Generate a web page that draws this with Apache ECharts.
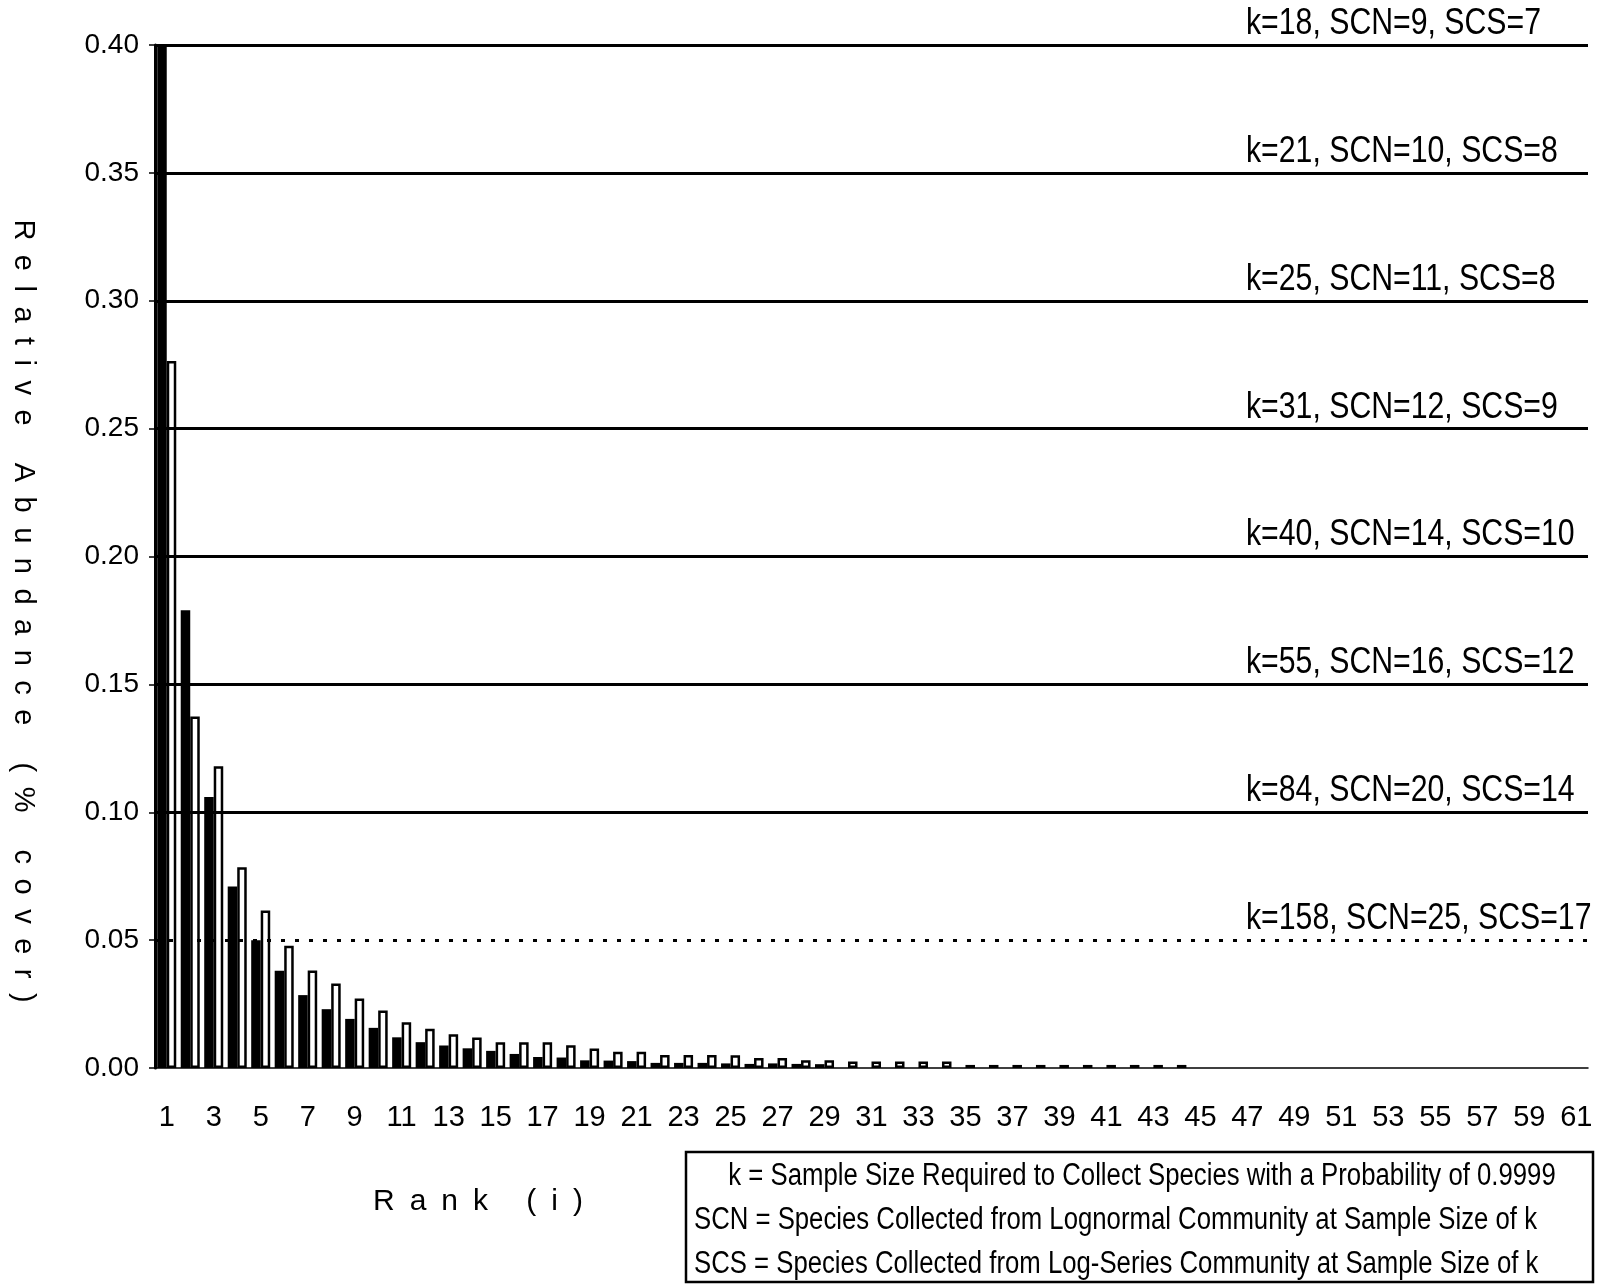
<!DOCTYPE html>
<html><head><meta charset="utf-8">
<script src="https://cdn.jsdelivr.net/npm/echarts@6/dist/echarts.min.js"></script>
<style>html,body{margin:0;padding:0;background:#fff}#c{width:1617px;height:1284px}</style>
</head><body><div id="c"></div>
<script>
const ranks = ['1','2','3','4','5','6','7','8','9','10','11','12','13','14','15','16','17','18','19','20',
  '21','22','23','24','25','26','27','28','29','30','31','32','33','34','35','36','37','38','39','40',
  '41','42','43','44','45','46','47','48','49','50','51','52','53','54','55','56','57','58','59','60','61'];

const blackVals = [0.42,0.179,0.106,0.071,0.050,0.038,0.0285,0.023,0.0192,0.0157,
  0.0120,0.0101,0.0088,0.0077,0.0067,0.0055,0.0043,0.0041,0.0030,0.0029,
  0.0027,0.0020,0.0020,0.0020,0.0018,0.0016,0.0018,0.0016,0.0015,null,
  null,null,null,null,null,null,null,null,null,null,
  null,null,null,null,null,null,null,null,null,null,
  null,null,null,null,null,null,null,null,null,null,null];

const whiteVals = [0.2764,0.1374,0.118,0.0785,0.0616,0.0478,0.0381,0.0330,0.0272,0.0225,
  0.0179,0.0153,0.0132,0.0119,0.0101,0.0101,0.0101,0.0089,0.0076,0.0064,
  0.0064,0.0051,0.0051,0.0051,0.0050,0.0039,0.0039,0.0030,0.0030,0.0025,
  0.0025,0.0025,0.0025,0.0025,0.0012,0.0012,0.0012,0.0012,0.0012,0.0012,
  0.0012,0.0012,0.0012,0.0012,null,null,null,null,null,null,
  null,null,null,null,null,null,null,null,null,null,null];

const refValues = [0.40,0.35,0.30,0.25,0.20,0.15,0.10,0.05];
const refLabels = ['k=18, SCN=9, SCS=7','k=21, SCN=10, SCS=8','k=25, SCN=11, SCS=8','k=31, SCN=12, SCS=9',
  'k=40, SCN=14, SCS=10','k=55, SCN=16, SCS=12','k=84, SCN=20, SCS=14','k=158, SCN=25, SCS=17'];

const legendLines = ['k = Sample Size Required to Collect Species with a Probability of 0.9999',
  'SCN = Species Collected from Lognormal Community at Sample Size of k',
  'SCS = Species Collected from Log-Series Community at Sample Size of k'];

const yTitle = 'Relative Abundance (% cover)';
const xTitle = 'Rank (i)';

const SANS = "'Liberation Sans',Arial,sans-serif";
const spaced = s => s.split('').join('\u2002');

const chart = echarts.init(document.getElementById('c'), null, {renderer:'canvas'});
chart.setOption({
  animation:false,
  backgroundColor:'#fff',
  grid:{left:155,right:29,top:45,bottom:216,containLabel:false},
  xAxis:{
    type:'category', data:ranks,
    axisLine:{show:true,lineStyle:{color:'#000',width:1.5}},
    axisTick:{show:false},
    axisLabel:{interval:1,margin:35,color:'#000',fontSize:29,fontFamily:SANS},
    splitLine:{show:false}
  },
  yAxis:{
    type:'value', min:0, max:0.4, interval:0.05,
    axisLine:{show:true,lineStyle:{color:'#000',width:3}},
    axisTick:{show:true,inside:false,length:6,lineStyle:{color:'#000',width:1.5}},
    axisLabel:{margin:16,color:'#000',fontSize:28,fontFamily:SANS,formatter:v=>v.toFixed(2)},
    splitLine:{show:false}
  },
  series:[
    {name:'Black', type:'bar', data:blackVals, barGap:'0%', barCategoryGap:'19%', clip:true,
     itemStyle:{color:'#000'},
     markLine:{silent:true, symbol:'none', animation:false,
       label:{show:false},
       data: refValues.map((v,i)=>({yAxis:v, lineStyle:{color:'#000', width:3, type: i===7?[4,10]:'solid'}}))
     }},
    {name:'White', type:'bar', data:whiteVals, clip:true,
     itemStyle:{color:'#fff',borderColor:'#000',borderWidth:2.5}}
  ]
});

const gfx = [];
refValues.forEach((v,i)=>{
  const y = chart.convertToPixel({yAxisIndex:0}, v);
  gfx.push({type:'text', x:1246, y:y-21, scaleX:0.84,
    style:{text:refLabels[i], font:'36px '+SANS, fill:'#000', textAlign:'left', textVerticalAlign:'middle'}});
});
gfx.push({type:'text', x:23, y:611, rotation:-Math.PI/2,
  style:{text:spaced(yTitle), font:'29px '+SANS, fill:'#000', textAlign:'center', textVerticalAlign:'middle'}});
gfx.push({type:'text', x:478, y:1202,
  style:{text:spaced(xTitle), font:'30px '+SANS, fill:'#000', textAlign:'center', textVerticalAlign:'middle'}});
gfx.push({type:'rect', shape:{x:686,y:1152,width:907,height:130}, style:{fill:'#fff',stroke:'#000',lineWidth:2.5}});
gfx.push({type:'text', x:1142, y:1176, scaleX:0.83, style:{text:legendLines[0], font:'31px '+SANS, fill:'#000', textAlign:'center', textVerticalAlign:'middle'}});
gfx.push({type:'text', x:694, y:1220, scaleX:0.83, style:{text:legendLines[1], font:'31px '+SANS, fill:'#000', textAlign:'left', textVerticalAlign:'middle'}});
gfx.push({type:'text', x:694, y:1264, scaleX:0.83, style:{text:legendLines[2], font:'31px '+SANS, fill:'#000', textAlign:'left', textVerticalAlign:'middle'}});
chart.setOption({graphic:gfx});
</script></body></html>
